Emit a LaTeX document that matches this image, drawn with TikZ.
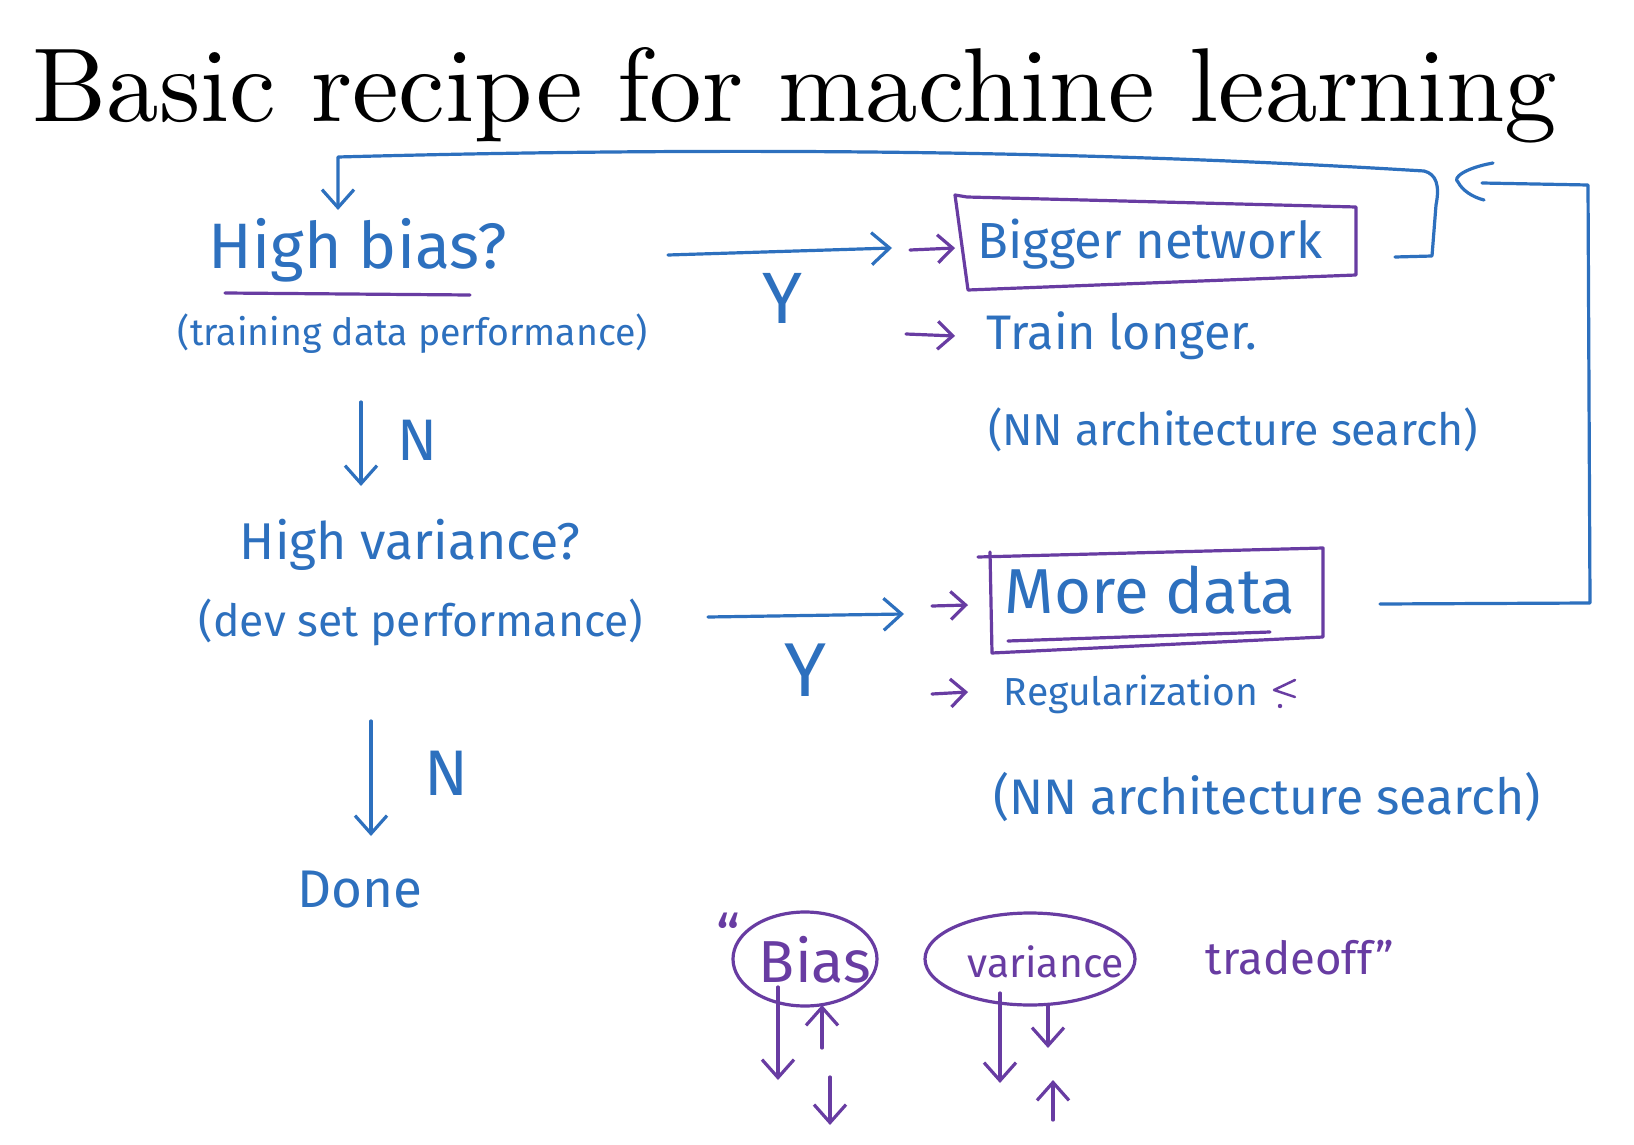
\documentclass[tikz,border=0pt]{standalone}
\usepackage{fontspec}
\usepackage{graphicx}
\newfontfamily\hand{Fira Sans}
\usetikzlibrary{arrows.meta,shapes.geometric}
\definecolor{inkblue}{RGB}{45,112,190}
\definecolor{inkpurple}{RGB}{104,60,162}
\newcommand{\hw}[2]{\resizebox{#1pt}{!}{\hand #2}}
\begin{document}
\begin{tikzpicture}[x=1pt,y=-1pt,
  ink/.style={line width=3.2pt, line cap=round, line join=round},
  blueink/.style={ink, draw=inkblue},
  purpleink/.style={ink, draw=inkpurple},
  arr/.style={-{Straight Barb[length=18pt,width=32pt]}},
  sarr/.style={-{Straight Barb[length=15pt,width=28pt]}},
  bluetxt/.style={text=inkblue, inner sep=0pt},
  purpletxt/.style={text=inkpurple, inner sep=0pt},
  pbox/.style={ink, draw=inkpurple}]
\useasboundingbox[fill=white] (0,0) rectangle (1634,1145);

% title
\node[anchor=base west, inner sep=0pt] (title) at (32,122)
  {\resizebox{1525pt}{!}{Basic recipe for machine learning}};

% left column
\node[bluetxt] (hb) at (358,250) {\hw{298}{High bias?}};
\node[bluetxt] (tdp) at (413,334) {\hw{470}{(training data performance)}};
\node[bluetxt] (n1) at (418,440) {\hw{40}{N}};
\node[bluetxt] (hv) at (410,545) {\hw{340}{High variance?}};
\node[bluetxt] (dsp) at (421,622) {\hw{444}{(dev set performance)}};
\node[bluetxt] (n2) at (447,773) {\hw{44}{N}};
\node[bluetxt] (done) at (360,890) {\hw{125}{Done}};

\coordinate (ul1) at (225,293); \coordinate (ul2) at (470,295);
\draw[purpleink] (ul1) -- (ul2);

\coordinate (d1s) at (361,402); \coordinate (d1e) at (361,486);
\draw[blueink,arr] (d1s) -- (d1e);
\coordinate (d2s) at (371,721); \coordinate (d2e) at (371,836);
\draw[blueink,arr] (d2s) -- (d2e);

% right column, upper
\node[bluetxt] (bn) at (1150,244) {\hw{345}{Bigger network}};
\draw[pbox] (955,195) -- (967,197) -- (1356,207) -- (1356,275) -- (968,290) -- cycle;
\node[bluetxt] (tl) at (1122,336) {\hw{270}{Train longer.}};
\node[bluetxt] (nas1) at (1233,430) {\hw{490}{(NN architecture search)}};
\node[bluetxt] (y1) at (782,298) {\hw{40}{Y}};

\coordinate (a1s) at (668,255); \coordinate (a1e) at (892,248);
\draw[blueink,arr] (a1s) -- (a1e);
\coordinate (p1s) at (910,250); \coordinate (p1e) at (955,248);
\draw[purpleink,sarr] (p1s) -- (p1e);
\coordinate (p2s) at (906,334); \coordinate (p2e) at (955,336);
\draw[purpleink,sarr] (p2s) -- (p2e);

% right column, lower
\node[bluetxt] (md) at (1150,590) {\hw{290}{More data}};
\draw[pbox] (978,557) -- (1323,548) -- (1323,637) -- (992,653) -- (990,552);
\draw[purpleink] (1008,641) -- (1270,632);
\node[bluetxt] (reg) at (1131,694) {\hw{254}{Regularization}};
\node[bluetxt] (nas2) at (1267,797) {\hw{548}{(NN architecture search)}};
\node[bluetxt] (y2) at (805,670) {\hw{42}{Y}};
\coordinate (rm1) at (1295,680); \coordinate (rm2) at (1274,690); \coordinate (rm3) at (1295,697);
\draw[purpleink, line width=2.5pt] (rm1) -- (rm2) -- (rm3);
\fill[inkpurple] (1280,706) circle (2.2);

\coordinate (a2s) at (708,617); \coordinate (a2e) at (904,614);
\draw[blueink,arr] (a2s) -- (a2e);
\coordinate (p3s) at (932,606); \coordinate (p3e) at (968,605);
\draw[purpleink,sarr] (p3s) -- (p3e);
\coordinate (p4s) at (932,694); \coordinate (p4e) at (968,692);
\draw[purpleink,sarr] (p4s) -- (p4e);

% feedback loops
\coordinate (l1a) at (1395,257);
\coordinate (l1b) at (1432,256);
\coordinate (l1c) at (1424,171);
\coordinate (l1d) at (338,157);
\coordinate (l1e) at (338,210);
\draw[blueink,arr] (l1a) -- (l1b) -- (1436,205) .. controls (1440,185) and (1436,174) .. (l1c)
  .. controls (1000,145) and (600,150) .. (l1d) -- (l1e);

\coordinate (l2a) at (1380,604);
\coordinate (l2b) at (1590,603);
\coordinate (l2c) at (1588,185);
\coordinate (l2d) at (1458,182);
\draw[blueink] (l2a) -- (l2b) -- (l2c) -- (1482,183);
\draw[blueink] (1493,163) .. controls (1465,168) and (1452,178) .. (l2d) .. controls (1462,190) and (1472,197) .. (1484,200);

% bias / variance
\node[draw=inkpurple, ink, ellipse, minimum width=144pt, minimum height=94pt, inner sep=0pt] (be) at (805,959) {};
\node[purpletxt] (bt) at (815,960) {\hw{112}{Bias}};
\node[draw=inkpurple, ink, ellipse, minimum width=210pt, minimum height=92pt, inner sep=0pt] (ve) at (1030,959) {};
\node[purpletxt] (vt) at (1046,962) {\hw{156}{variance}};
\node[purpletxt] (to) at (1300,958) {\hw{188}{tradeoff\textquotedblright}};
\node[purpletxt] (oq) at (728,935) {\hw{24}{\textquotedblleft}};

\coordinate (b1s) at (778,987); \coordinate (b1e) at (778,1080);
\draw[purpleink,arr] (b1s) -- (b1e);
\coordinate (b2s) at (822,1048); \coordinate (b2e) at (822,1005);
\draw[purpleink,arr] (b2s) -- (b2e);
\coordinate (b3s) at (830,1077); \coordinate (b3e) at (830,1125);
\draw[purpleink,arr] (b3s) -- (b3e);
\coordinate (v1s) at (1000,993); \coordinate (v1e) at (1000,1083);
\draw[purpleink,arr] (v1s) -- (v1e);
\coordinate (v2s) at (1048,1005); \coordinate (v2e) at (1048,1048);
\draw[purpleink,arr] (v2s) -- (v2e);
\coordinate (v3s) at (1053,1120); \coordinate (v3e) at (1053,1080);
\draw[purpleink,arr] (v3s) -- (v3e);
\end{tikzpicture}
\end{document}
